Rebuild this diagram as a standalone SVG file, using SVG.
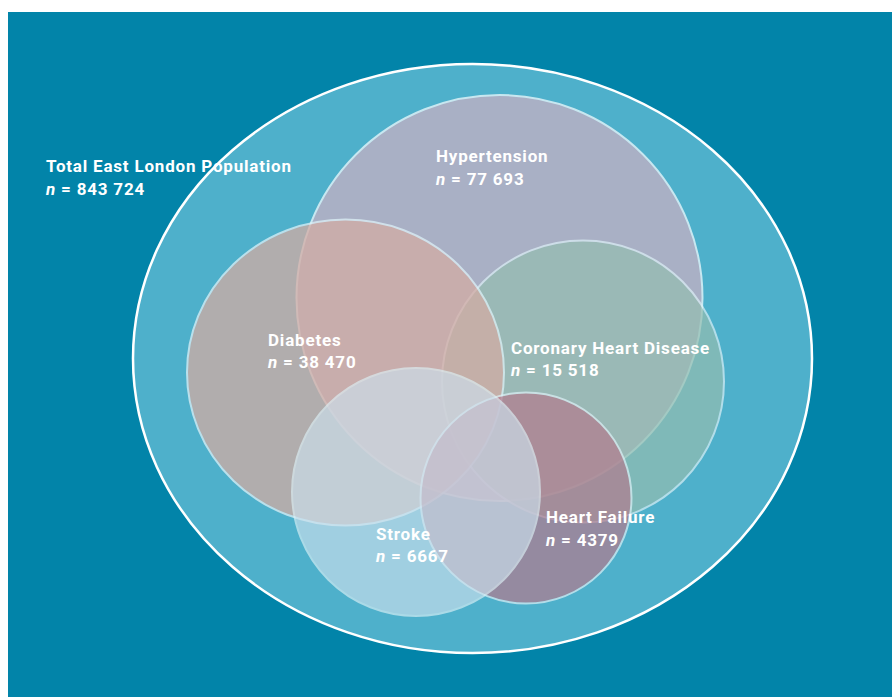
<svg xmlns="http://www.w3.org/2000/svg" width="892" height="697" viewBox="0 0 892 697">
  <style>
    .set { stroke: #DDF1F7; stroke-width: 2; }
    .lbl { font-family: Roboto, "Open Sans", "Liberation Sans", sans-serif; font-weight: 700; font-size: 17px; fill: #FFFFFF; letter-spacing: 0.8px; }
    .n { font-style: italic; }
  </style>
  <rect x="0" y="0" width="892" height="697" fill="#FFFFFF"/>
  <rect x="8" y="12" width="884" height="685" fill="#0284A9"/>

  <g id="population">
    <ellipse cx="472.5" cy="358.5" rx="339.5" ry="294.5" fill="#4EB0CB" stroke="#FFFFFF" stroke-width="2.5"/>
  </g>
  <g id="hypertension">
    <circle class="set" cx="499.5" cy="298" r="203" fill="#BAB0C5" opacity="0.85"/>
  </g>
  <g id="chd">
    <circle class="set" cx="583" cy="381.5" r="141" fill="#94BEB1" opacity="0.7"/>
  </g>
  <g id="diabetes">
    <ellipse class="set" cx="345.5" cy="372.5" rx="158.5" ry="153" fill="#D3ACA4" opacity="0.75"/>
  </g>
  <g id="heart-failure">
    <circle class="set" cx="526" cy="498" r="105.5" fill="#B37B8E" opacity="0.7"/>
  </g>
  <g id="stroke">
    <circle class="set" cx="416" cy="492" r="124" fill="#CCE0ED" opacity="0.65"/>
  </g>

  <g id="connectors"></g>

  <g id="labels">
    <text class="lbl" x="46" y="172">Total East London Population</text>
    <text class="lbl" x="46" y="195"><tspan class="n">n</tspan> = 843 724</text>
    <text class="lbl" x="436" y="162">Hypertension</text>
    <text class="lbl" x="436" y="185"><tspan class="n">n</tspan> = 77 693</text>
    <text class="lbl" x="268" y="346">Diabetes</text>
    <text class="lbl" x="268" y="368"><tspan class="n">n</tspan> = 38 470</text>
    <text class="lbl" x="511" y="354">Coronary Heart Disease</text>
    <text class="lbl" x="511" y="376"><tspan class="n">n</tspan> = 15 518</text>
    <text class="lbl" x="376" y="540">Stroke</text>
    <text class="lbl" x="376" y="562"><tspan class="n">n</tspan> = 6667</text>
    <text class="lbl" x="546" y="523">Heart Failure</text>
    <text class="lbl" x="546" y="546"><tspan class="n">n</tspan> = 4379</text>
  </g>
</svg>
